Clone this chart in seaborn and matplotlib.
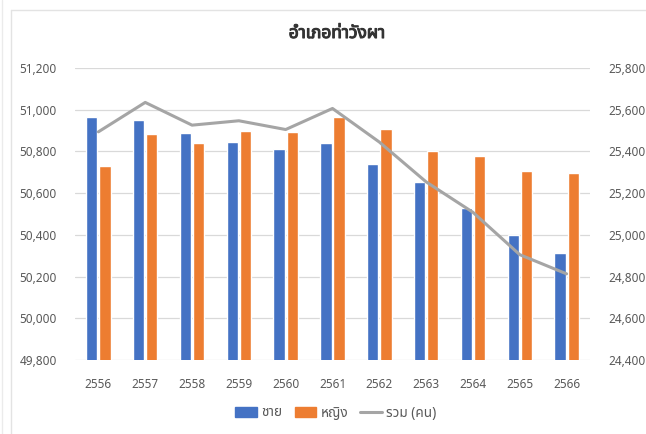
import matplotlib
matplotlib.use("Agg")
import matplotlib.pyplot as plt
import matplotlib.patheffects as pe
from matplotlib.lines import Line2D
from matplotlib.patches import Patch
from matplotlib.ticker import FuncFormatter
import numpy as np
import pandas as pd
import seaborn as sns

# data
years = ["2556", "2557", "2558", "2559", "2560", "2561",
         "2562", "2563", "2564", "2565", "2566"]
male = [25564, 25551, 25487, 25447, 25413, 25439, 25339, 25252, 25130, 25000, 24915]
female = [25330, 25484, 25439, 25500, 25492, 25567, 25506, 25402, 25378, 25305, 25298]
total = [50894, 51035, 50926, 50947, 50905, 51006, 50845, 50654, 50508, 50305, 50213]

sns.set_style("white")
plt.rcParams["font.family"] = ["Noto Sans", "Noto Sans Thai", "DejaVu Sans"]

df = pd.DataFrame({"year": years * 2,
                   "value": male + female,
                   "sex": ["ชาย"] * len(years) + ["หญิง"] * len(years)})

blue = "#4472C4"
orange = "#ED7D31"
grey = "#A5A5A5"
txt = "#595959"

fig = plt.figure(figsize=(6.46, 4.34), dpi=100)
ax = fig.add_axes([75 / 646, 1 - 360 / 434, 515 / 646, 292 / 434])

# bars -> right axis scale
sns.barplot(data=df, x="year", y="value", hue="sex", palette=[blue, orange],
            width=0.56, gap=0.14, ax=ax, legend=False, saturation=1)
ax.set_ylim(24400, 25800)
ax.set_yticks(np.arange(24400, 25801, 200))
ax.grid(axis="y", color="#D9D9D9", lw=0.9)
ax.set_axisbelow(True)
ax.set_xlim(-0.5, len(years) - 0.5)

# line -> left axis scale
ax2 = ax.twinx()
sns.lineplot(x=np.arange(len(years)), y=total, color=grey, lw=2.2, ax=ax2)
ax2.set_ylim(49800, 51200)
ax2.set_yticks(np.arange(49800, 51201, 200))
ax2.set_xlim(-0.5, len(years) - 0.5)

# swap sides: bars' scale on the right, total on the left
ax.yaxis.tick_right()
ax2.yaxis.tick_left()

fmt = FuncFormatter(lambda v, p: f"{int(v):,}")
for a in (ax, ax2):
    a.yaxis.set_major_formatter(fmt)
    a.set_xlabel("")
    a.set_ylabel("")
    a.tick_params(length=0, labelsize=8.5, labelcolor=txt)
    for s in a.spines.values():
        s.set_visible(False)
ax.tick_params(axis="y", pad=13)
ax2.tick_params(axis="y", pad=13)
ax.tick_params(axis="x", pad=13)

fig.text(337 / 646, 1 - 33 / 434, "อำเภอท่าวังผา", ha="center", va="center",
         fontsize=12.5, color="#333333",
         path_effects=[pe.withStroke(linewidth=0.8, foreground="#333333")])

handles = [Patch(color=blue), Patch(color=orange), Line2D([], [], color=grey, lw=2.2)]
fig.legend(handles, ["ชาย", "หญิง", "รวม (คน)"], loc="center",
           bbox_to_anchor=(336 / 646, 1 - 413 / 434), ncol=3, frameon=False,
           fontsize=9.8, labelcolor=txt, handlelength=1.6, handleheight=0.7,
           columnspacing=0.9, handletextpad=0.3)

# faint chart border
fig.add_artist(Line2D([11 / 646, 11 / 646], [0, 1 - 10 / 434], color="#E3E3E3", lw=1))
fig.add_artist(Line2D([11 / 646, 1], [1 - 10 / 434, 1 - 10 / 434], color="#E3E3E3", lw=1))
fig.add_artist(Line2D([2 / 646, 2 / 646], [0, 1], color="#EBEBEB", lw=1))

fig.savefig("out.png", dpi=100)
